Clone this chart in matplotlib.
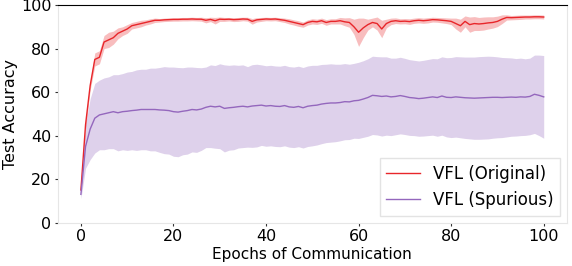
import matplotlib
matplotlib.use("Agg")
import matplotlib.pyplot as plt
import numpy as np

# Values, one per epoch (0..100)
epochs = np.arange(101)

orig_mean = [
    15, 45, 63, 75, 76, 83, 84, 85, 87, 88,
    89, 90.5, 91, 91.5, 92, 92.5, 93, 93, 93.2, 93.3,
    93.4, 93.4, 93.5, 93.5, 93.6, 93.5, 93.5, 93, 93.4, 92.8,
    93.5, 93.4, 93.5, 93.3, 93.4, 93.6, 93.5, 92.5, 93.2, 93.4,
    93.6, 93.5, 93.6, 93.3, 93, 92.5, 92, 91.5, 91, 92,
    92.5, 92.3, 92.8, 92, 92.5, 92.5, 92.8, 92.3, 92, 90,
    87.5, 89.5, 91, 92, 91.5, 89, 91.5, 92.5, 92.8, 92.5,
    92.6, 92.4, 92.8, 93, 92.8, 93, 93.3, 93.2, 93, 92.8,
    92.5, 91.5, 90.5, 92.5, 91, 91.5, 91.3, 91.5, 91.8, 92,
    92.5, 93.5, 94.3, 94.2, 94.3, 94.4, 94.5, 94.5, 94.6, 94.6,
    94.5,
]
orig_std = [
    1, 2, 2, 3, 3, 3, 3.5, 3, 2.5, 2,
    2, 1.5, 1.5, 1.5, 1.2, 1.2, 1, 0.8, 0.8, 0.8,
    0.8, 0.8, 0.8, 0.8, 0.8, 0.8, 0.9, 1.2, 1, 1.5,
    1, 0.9, 0.8, 0.9, 0.9, 0.8, 0.9, 1.3, 1, 0.9,
    0.8, 0.8, 0.8, 0.9, 1, 1.2, 1.2, 1.3, 1.2, 1.2,
    1.2, 1.2, 1.2, 1.3, 1.2, 1.2, 1.5, 1.8, 2.2, 3.5,
    6.5, 4.5, 2.5, 2, 3, 4, 2, 1.5, 1.3, 1.2,
    1.2, 1.3, 1.2, 1.2, 1.2, 1.2, 1.1, 1.1, 1.2, 1.3,
    1.5, 2.5, 3, 2.5, 3.5, 3.2, 3, 3, 2.8, 2.6,
    2.4, 2, 1.2, 1, 1, 1, 0.9, 0.9, 0.9, 0.9,
    0.9,
]

spur_mean = [
    13, 35, 43, 48, 49.5, 50, 50.5, 51, 50.5, 51,
    51.2, 51.5, 51.7, 52, 52, 52, 52, 51.8, 51.7, 51.5,
    51, 50.8, 51.2, 51.5, 52, 51.8, 52.2, 53, 53.5, 53.2,
    53.5, 52.5, 52.8, 53, 53.3, 53.5, 53.2, 53.6, 53.8, 54,
    53.6, 53.8, 53.5, 53.4, 53.8, 53.2, 53, 53.4, 52.8, 53.5,
    53.8, 54, 54.5, 54.8, 55, 55, 55.2, 55.6, 55.5, 56,
    56.2, 56.8, 57.5, 58.5, 58.3, 58, 58.2, 57.8, 58, 58.4,
    58, 57.5, 57.3, 57, 57.2, 57.5, 57.8, 57.5, 58.2, 57.6,
    57.5, 57.8, 57.6, 57.4, 57.3, 57.2, 57.3, 57.4, 57.5, 57.6,
    57.6, 57.5, 57.6, 57.7, 57.6, 57.8, 57.7, 58, 59, 58.5,
    57.8,
]
spur_std = [
    2, 10, 14, 16, 16, 16.5, 16.5, 17, 17.5, 17.5,
    18, 18, 18.5, 18.5, 18.5, 19, 19, 19.5, 20, 20,
    20.5, 20.5, 20, 20, 19.5, 19.5, 19, 18.5, 19, 19,
    19.5, 20, 19.5, 19.5, 19, 19, 18.5, 19, 19, 18.5,
    18.5, 18.5, 18.5, 18.5, 18.5, 18.5, 18.5, 18.5, 18.5, 18.5,
    18.5, 18.3, 18.2, 18, 18, 17.8, 17.6, 17.5, 17.3, 17.2,
    17.5, 17.6, 17.8, 18, 18, 18.2, 18, 17.8, 17.6, 17.6,
    17.5, 17.4, 17.3, 17.3, 17.4, 17.5, 17.6, 17.8, 18, 18.2,
    18.4, 18.5, 18.6, 18.7, 18.8, 18.9, 19, 19, 19, 18.8,
    18.6, 18.4, 18.2, 18, 17.8, 17.8, 17.6, 17.6, 18, 18.5,
    19,
]

RED = "#e8262a"
PURPLE = "#9467bd"

fig = plt.figure(figsize=(5.72, 2.66), dpi=100)
ax = fig.add_axes([0.101, 0.163, 0.89, 0.818])

om, osd = np.array(orig_mean), np.array(orig_std)
sm, ssd = np.array(spur_mean), np.array(spur_std)

ax.plot(epochs, om, color=RED, lw=1.0, label="VFL (Original)")
ax.fill_between(epochs, om - osd, om + osd, color=RED, alpha=0.3, lw=0)
ax.plot(epochs, sm, color=PURPLE, lw=1.0, label="VFL (Spurious)")
ax.fill_between(epochs, sm - ssd, sm + ssd, color=PURPLE, alpha=0.3, lw=0)

ax.set_xlim(-5, 105)
ax.set_ylim(0, 100)
ax.set_xticks([0, 20, 40, 60, 80, 100])
ax.set_yticks([0, 20, 40, 60, 80, 100])
ax.tick_params(labelsize=11.5, length=2.5, width=0.8, color="#333333", pad=2)
ax.set_xlabel("Epochs of Communication", fontsize=11, labelpad=2)
ax.set_ylabel("Test Accuracy", fontsize=11.5)
ax.yaxis.set_label_coords(-0.078, 0.5)

for side in ("left", "right", "bottom"):
    ax.spines[side].set_color("#e6e6e6")
ax.spines["top"].set_color("black")

ax.legend(loc="lower right", fontsize=12, frameon=True, fancybox=False,
          edgecolor="#dddddd", handlelength=2.0, borderaxespad=0.4)

fig.savefig("out.png", dpi=100)
